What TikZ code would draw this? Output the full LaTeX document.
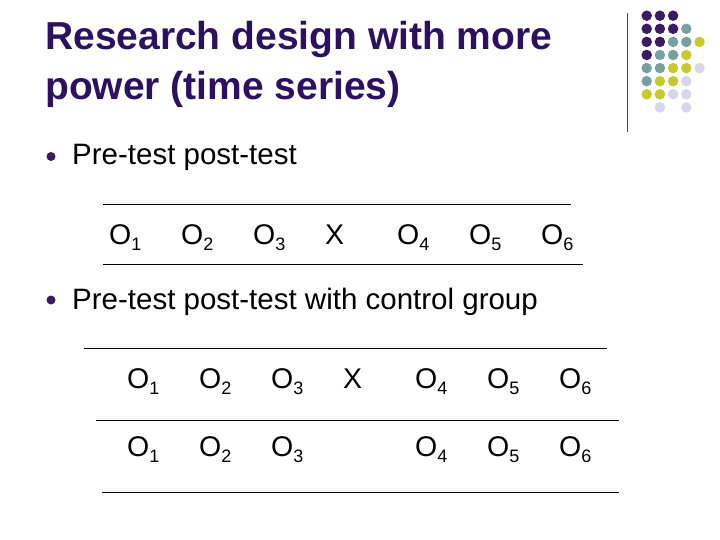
\documentclass[tikz,border=0pt]{standalone}
\usepackage{fontspec}
\setmainfont{Liberation Sans}
\definecolor{ttl}{HTML}{2E1060}
\definecolor{dP}{HTML}{3C1A64}
\definecolor{dT}{HTML}{76A0A2}
\definecolor{dY}{HTML}{C8C830}
\definecolor{dL}{HTML}{D6D6EA}
\newcommand{\Ob}[1]{O\raisebox{-6pt}{\fontsize{18}{18}\selectfont #1}}
\tikzset{
  ttltext/.style={anchor=base west, inner sep=0pt, text=ttl, font=\fontsize{39}{44}\bfseries\selectfont},
  bodytext/.style={anchor=base west, inner sep=0pt, font=\fontsize{29.5}{34}\selectfont},
  otext/.style={anchor=base west, inner sep=0pt, font=\fontsize{28.5}{34}\selectfont},
  rule/.style={line width=1pt, black},
  bul/.style={circle, fill=dP, inner sep=0pt, minimum size=9pt},
  dot/.style={circle, inner sep=0pt, minimum size=10.5pt},
}
\begin{document}
\begin{tikzpicture}[x=1pt,y=-1pt]
\useasboundingbox (0,0) rectangle (720,540);
% title
\node[ttltext] (t1) at (45,49.5) {Research design with more};
\node[ttltext] (t2) at (45,100) {power (time series)};
% decoration
\draw[line width=1pt, black!70] (627.3,12.7) -- (627.3,131.7);
\foreach \c/\i/\j in {dP/0/0,dP/1/0,dP/2/0,
  dP/0/1,dP/1/1,dP/2/1,dT/3/1,
  dP/0/2,dP/1/2,dT/2/2,dT/3/2,dY/4/2,
  dP/0/3,dT/1/3,dT/2/3,dY/3/3,
  dT/0/4,dT/1/4,dY/2/4,dY/3/4,dL/4/4,
  dT/0/5,dY/1/5,dY/2/5,dL/3/5,
  dY/0/6,dY/1/6,dL/2/6,dL/3/6,
  dL/1/7,dL/3/7}
  \node[dot, fill=\c] (d\i\j) at ({646.7+13.2*\i},{15.7+13.1*\j}) {};
% bullet 1
\node[bul] (b1) at (51,156.5) {};
\node[bodytext] (p1) at (72,165) {Pre-test post-test};
\coordinate (l1a) at (103,204.3);
\coordinate (l1b) at (570.7,204.3);
\draw[rule] (l1a) -- (l1b);
\foreach \n/\x in {1/109,2/181,3/253,4/397,5/469,6/541}
  \node[otext] (r1o\n) at (\x,244) {\Ob{\n}};
\node[otext] (r1x) at (325,244) {X};
\coordinate (l2a) at (103,264);
\coordinate (l2b) at (582.7,264);
\draw[rule] (l2a) -- (l2b);
% bullet 2
\node[bul] (b2) at (51,300) {};
\node[bodytext] (p2) at (72,309) {Pre-test post-test with control group};
\coordinate (l3a) at (84,348.3);
\coordinate (l3b) at (606.7,348.3);
\draw[rule] (l3a) -- (l3b);
\foreach \n/\x in {1/127,2/199,3/271,4/415,5/487,6/559}
  \node[otext] (r2o\n) at (\x,388) {\Ob{\n}};
\node[otext] (r2x) at (343,388) {X};
\coordinate (l4a) at (96,420);
\coordinate (l4b) at (619,420);
\draw[rule] (l4a) -- (l4b);
\foreach \n/\x in {1/127,2/199,3/271,4/415,5/487,6/559}
  \node[otext] (r3o\n) at (\x,456) {\Ob{\n}};
\coordinate (l5a) at (101.7,492.7);
\coordinate (l5b) at (619,492.7);
\draw[rule] (l5a) -- (l5b);
\end{tikzpicture}
\end{document}
